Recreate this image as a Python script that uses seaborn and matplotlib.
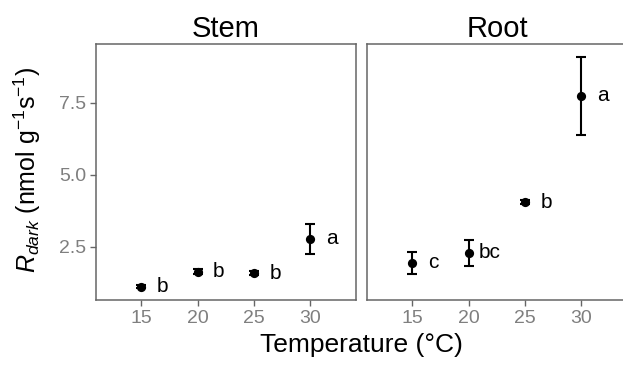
import matplotlib
matplotlib.use("Agg")
import matplotlib.pyplot as plt
import seaborn as sns
import pandas as pd

# Data
temps = [15, 20, 25, 30]
stem_mean = [1.11, 1.63, 1.58, 2.77]
stem_err = [0.06, 0.09, 0.07, 0.51]
stem_letters = ["b", "b", "b", "a"]
root_mean = [1.94, 2.29, 4.05, 7.74]
root_err = [0.39, 0.46, 0.08, 1.36]
root_letters = ["c", "bc", "b", "a"]
panels = ["Stem", "Root"]

sns.set_theme(style="white")
plt.rcParams['font.family'] = ['Liberation Sans', 'DejaVu Sans']
plt.rcParams['mathtext.fontset'] = 'custom'
plt.rcParams['mathtext.rm'] = 'Liberation Sans'
plt.rcParams['mathtext.it'] = 'Liberation Sans:italic'

W, H = 623, 366
fig = plt.figure(figsize=(W / 100, H / 100), dpi=100)

def px_axes(left, right, top, bottom):
    return fig.add_axes([left / W, (H - bottom) / H, (right - left) / W, (bottom - top) / H])

ax_stem = px_axes(96, 356, 44, 300)
ax_root = px_axes(367, 627, 44, 300)

data = {
    "Stem": (stem_mean, stem_err, stem_letters),
    "Root": (root_mean, root_err, root_letters),
}

grey = "#666666"
for ax, name in zip([ax_stem, ax_root], panels):
    m, e, lab = data[name]
    df = pd.DataFrame({"T": temps, "R": m, "err": e, "lab": lab})
    ax.errorbar(df["T"], df["R"], yerr=df["err"], fmt="none", ecolor="black",
                elinewidth=1.5, capsize=3.8, capthick=1.5, zorder=2)
    sns.scatterplot(data=df, x="T", y="R", ax=ax, color="black", s=44,
                    edgecolor="black", linewidth=0, zorder=3, legend=False)
    for t, r, l in zip(df["T"], df["R"], df["lab"]):
        ax.text(t + 1.9, r, l, ha="center", va="center", fontsize=15, color="black")
    ax.set_xlim(10.98, 34.08)
    ax.set_ylim(0.65, 9.54)
    ax.set_xticks(temps)
    ax.set_xticklabels([str(t) for t in temps])
    ax.set_yticks([2.5, 5.0, 7.5])
    ax.set_yticklabels(["2.5", "5.0", "7.5"])
    ax.set_xlabel("")
    ax.set_ylabel("")
    ax.set_title(name, fontsize=21, pad=5, color="black")
    for sp in ax.spines.values():
        sp.set_color(grey)
        sp.set_linewidth(1.1)
        sp.set_visible(True)
    ax.tick_params(axis="both", which="both", direction="out", length=4, width=1.0,
                   color=grey, labelcolor="#7f7f7f", labelsize=14, pad=3,
                   bottom=True, left=True)
    ax.grid(False)

ax_root.tick_params(axis="y", left=False, labelleft=False)

fig.text(361 / W, (H - 345) / H, "Temperature (°C)", ha="center", va="center",
         fontsize=19, color="black")
fig.text(27 / W, (H - 170) / H, r"$R_{dark}$ (nmol g$^{-1}$s$^{-1}$)", rotation=90,
         ha="center", va="center", fontsize=18, color="black")

fig.savefig("out.png", dpi=100)
